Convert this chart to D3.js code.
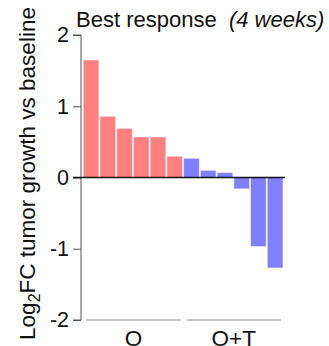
<!DOCTYPE html>
<html lang="en">
<head>
<meta charset="UTF-8">
<title>Best response</title>
<script src="https://d3js.org/d3.v7.min.js"></script>
<style>
  body { margin: 0; background: #fff; }
  text { font-family: "Liberation Sans", Arial, sans-serif; }
</style>
</head>
<body>
<div id="chart"></div>
<script>
    // data
    var patients = ["O1", "O2", "O3", "O4", "O5", "O6", "T1", "T2", "T3", "T4", "T5", "T6"];
    var groups = ["O", "O", "O", "O", "O", "O", "O+T", "O+T", "O+T", "O+T", "O+T", "O+T"];
    var log2fc = [1.65, 0.86, 0.69, 0.57, 0.57, 0.30, 0.27, 0.10, 0.07, -0.16, -0.97, -1.27];
    var groupNames = ["O", "O+T"];
    var yTicks = [-2, -1, 0, 1, 2];

    var color = {"O": "#ff8080", "O+T": "#8080ff"};

    var W = 329, H = 346;
    var svg = d3.select("#chart").append("svg")
        .attr("width", W)
        .attr("height", H);

    var y = d3.scaleLinear().domain([-2, 2]).range([320, 35]);
    var x = d3.scaleBand().domain(patients).range([83.2, 283]).paddingInner(0.06);

    // y axis
    var yAxis = svg.append("g")
        .attr("transform", "translate(81,0)")
        .call(d3.axisLeft(y).tickValues(yTicks).tickSize(8).tickPadding(4)
            .tickFormat(function(d) { return d3.format("d")(d).replace("\u2212", "-"); }));
    yAxis.select(".domain").attr("stroke", "#555").attr("d", "M-8," + y(2) + "H0V" + y(-2) + "H-8");
    yAxis.selectAll(".tick line").attr("stroke", "#555");
    yAxis.selectAll(".tick text").style("font-size", "21.5px").attr("fill", "#111");

    // bars
    svg.selectAll("rect.bar")
        .data(log2fc)
        .enter()
        .append("rect")
        .attr("class", "bar")
        .attr("x", function(d, i) { return x(patients[i]); })
        .attr("y", function(d) { return y(Math.max(d, 0)); })
        .attr("width", x.bandwidth())
        .attr("height", function(d) { return Math.abs(y(d) - y(0)); })
        .attr("fill", function(d, i) { return color[groups[i]]; })
        .attr("stroke", "rgba(255,255,255,0.55)")
        .attr("stroke-width", 1);

    // zero line
    svg.append("line")
        .attr("x1", 73).attr("x2", 285)
        .attr("y1", y(0)).attr("y2", y(0))
        .attr("stroke", "#111").attr("stroke-width", 1.4);

    // group lines and labels
    groupNames.forEach(function(g) {
        var idx = [];
        groups.forEach(function(v, i) { if (v === g) idx.push(i); });
        var x0 = x(patients[idx[0]]) + 3;
        var x1 = x(patients[idx[idx.length - 1]]) + x.bandwidth() - 2;
        svg.append("line")
            .attr("x1", x0).attr("x2", x1)
            .attr("y1", y(-2)).attr("y2", y(-2))
            .attr("stroke", "#888").attr("stroke-width", 1);
        svg.append("text")
            .attr("x", (x0 + x1) / 2)
            .attr("y", 346)
            .attr("text-anchor", "middle")
            .style("font-size", "22.5px")
            .attr("fill", "#111")
            .text(g);
    });

    // title
    var title = svg.append("text")
        .attr("x", 76).attr("y", 26.5)
        .style("font-size", "22px")
        .attr("fill", "#111")
        .attr("xml:space", "preserve")
        .style("white-space", "pre");
    title.append("tspan").text("Best response  ");
    title.append("tspan").style("font-style", "italic").text("(4 weeks)");

    // y label
    var yl = svg.append("text")
        .attr("transform", "translate(35," + 173.5 + ")rotate(-90)")
        .attr("text-anchor", "middle")
        .style("font-size", "22.5px")
        .attr("fill", "#111");
    yl.append("tspan").text("Log");
    yl.append("tspan").attr("dy", 5).style("font-size", "16px").text("2");
    yl.append("tspan").attr("dy", -5).text("FC tumor growth vs baseline");
</script>
</body>
</html>
